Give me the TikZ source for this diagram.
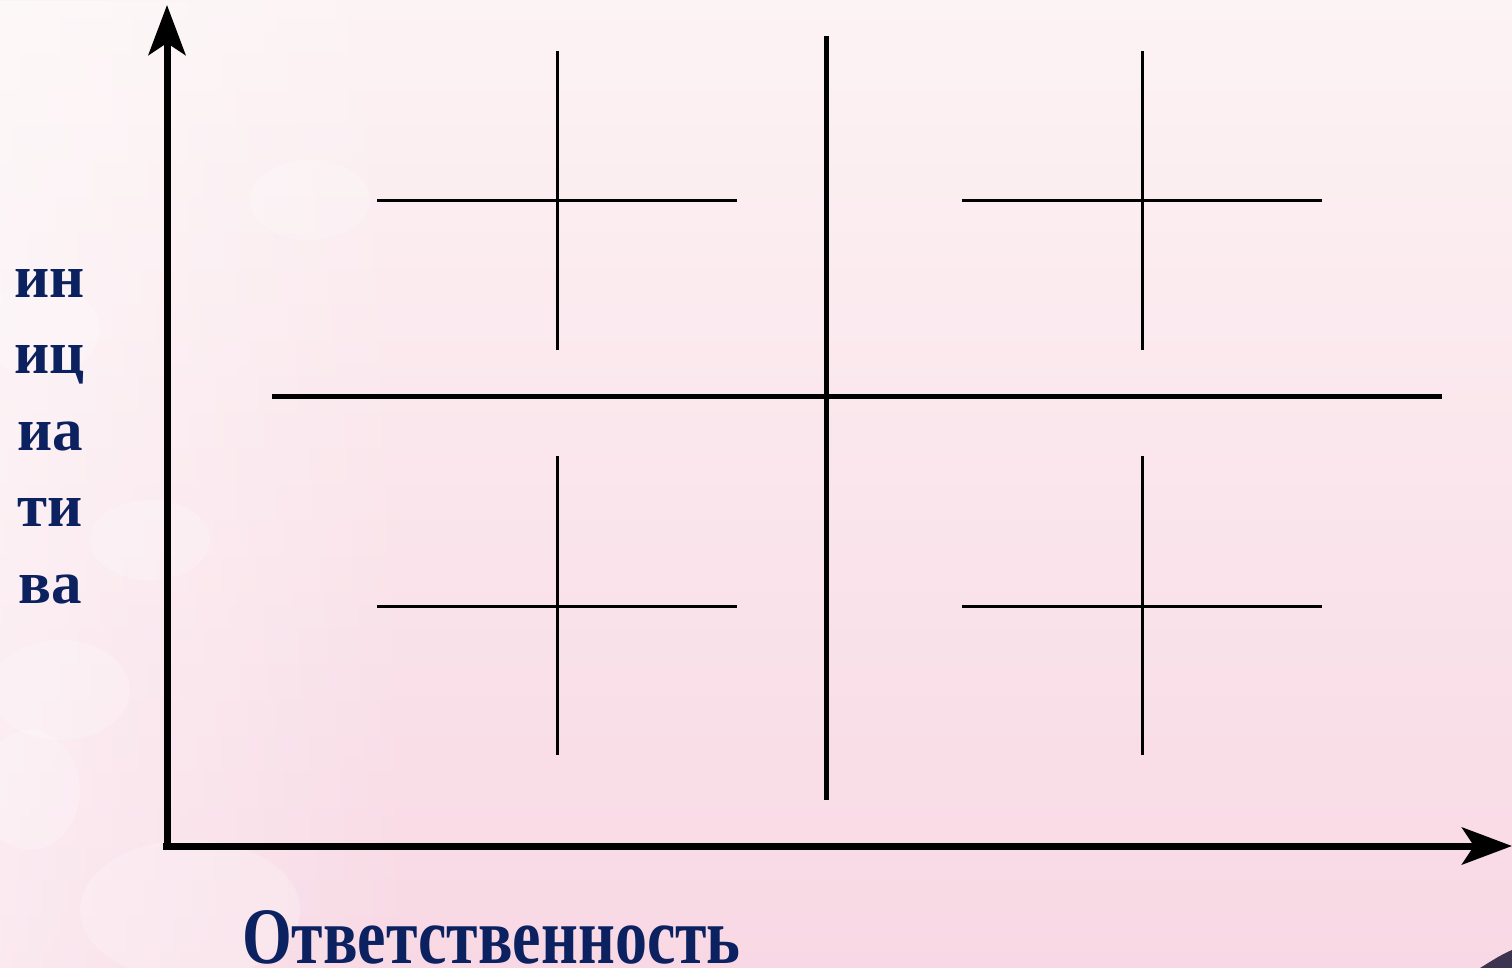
\documentclass[tikz,border=0pt]{standalone}
\usepackage{fontspec}
\setmainfont{Liberation Serif}
\usetikzlibrary{arrows.meta,fadings}
\definecolor{navy}{HTML}{0B2160}
\definecolor{bgtop}{HTML}{FCF3F4}
\definecolor{bgbot}{HTML}{F8D8E4}
\definecolor{cornerc}{HTML}{3D3550}
\tikzset{
  axis/.style={line width=7pt,-{Stealth[length=50pt,width=37pt,inset=12pt]}},
  bigline/.style={line width=5pt},
  smallline/.style={line width=3pt},
  lbl/.style={text=navy,inner sep=0pt},
  blob/.style={white,opacity=0.22}
}
\begin{document}
\begin{tikzpicture}[x=1pt,y=-1pt]
\useasboundingbox (0,0) rectangle (1512,968);
\shade[top color=bgtop,bottom color=bgbot] (0,0) rectangle (1512,968);
\fill[white,opacity=0.45,path fading=east] (0,0) rectangle (420,968);
\fill[blob] (40,330) ellipse (60 and 45);
\fill[blob] (60,690) ellipse (70 and 50);
\fill[blob] (30,790) ellipse (50 and 60);
\fill[blob] (190,910) ellipse (110 and 70);
\fill[blob] (150,540) ellipse (60 and 40);
\fill[blob] (310,200) ellipse (60 and 40);
% corner decoration
\fill[cornerc] (1512,950) .. controls (1500,955) and (1490,962) .. (1480,968) -- (1512,968) -- cycle;
% axes
\coordinate (ytip) at (167,5);
\coordinate (xtip) at (1512,846);
\coordinate (ybase) at (167,849);
\coordinate (xbase) at (163,846);
\draw[axis] (ybase) -- (ytip);
\draw[axis] (xbase) -- (xtip);
% big cross
\coordinate (vt) at (826,36);
\coordinate (vb) at (826,800);
\coordinate (hl) at (272,396);
\coordinate (hr) at (1442,396);
\draw[bigline] (vt) -- (vb);
\draw[bigline] (hl) -- (hr);
% small crosses
\foreach \cx/\cy/\n in {557/201/a,1142/201/b,557/606/c,1142/606/d}{
  \coordinate (\n t) at (\cx,\cy-150);
  \coordinate (\n b) at (\cx,\cy+149);
  \coordinate (\n l) at (\cx-180,\cy);
  \coordinate (\n r) at (\cx+180,\cy);
  \draw[smallline] (\n t) -- (\n b);
  \draw[smallline] (\n l) -- (\n r);
}
% labels
\node[lbl,font=\bfseries\fontsize{61}{76.5}\selectfont,align=center,anchor=north] (ylab) at (50,269) {ин\\иц\\иа\\ти\\ва};
\node[lbl,font=\bfseries\fontsize{80}{80}\selectfont,anchor=base west,xscale=0.8] (xlab) at (242,963) {Ответственность};
\end{tikzpicture}
\end{document}
